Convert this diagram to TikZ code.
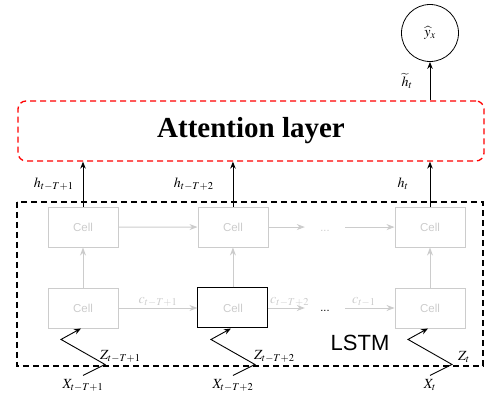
\documentclass[tikz,border=0pt]{standalone}
\usepackage{mathptmx}
\usepackage{fontspec}
\setsansfont{Liberation Sans}
\newfontfamily\attfont{Liberation Serif}
\DeclareMathSizes{13}{14}{10.5}{8}
\usetikzlibrary{arrows.meta,positioning,calc}
\definecolor{cellgray}{HTML}{CCCCCC}
\tikzset{
  cellbox/.style={draw=cellgray, line width=0.9pt, minimum width=70pt, minimum height=40pt, inner sep=0pt, text=cellgray, font=\sffamily\fontsize{11.5}{12}\selectfont},
  dotbox/.style={minimum width=40pt, inner sep=0pt, font=\sffamily\fontsize{11}{12}\selectfont},
  grayarrow/.style={draw=cellgray, line width=0.9pt, -{Stealth[length=8pt,width=6pt]}},
  blackarrow/.style={black, line width=0.9pt, -{Stealth[length=7pt,width=5.5pt]}},
  lbl/.style={font=\fontsize{13}{15}\selectfont, inner sep=1pt},
  attbox/.style={draw=red, line width=1.3pt, dash pattern=on 6pt off 4pt, rounded corners=8pt, minimum width=466pt, minimum height=60pt, font=\attfont\bfseries\fontsize{29}{30}\selectfont},
  lstmbox/.style={draw=black, line width=1.3pt, dash pattern=on 6pt off 4pt},
}
\begin{document}
\begin{tikzpicture}[x=1pt,y=-1pt]
  \useasboundingbox (0,0) rectangle (488,398);
  % LSTM cells
  \node[cellbox] (b1) at (83,308) {Cell};
  \node[cellbox, right=79pt of b1, draw=black, line width=1pt] (b2) {Cell};
  \node[cellbox] (b3) at (430,308) {Cell};
  \node[cellbox, above=40pt of b1] (t1) {Cell};
  \node[cellbox, above=40pt of b2] (t2) {Cell};
  \node[cellbox, above=40pt of b3] (t3) {Cell};
  \node[dotbox, text=cellgray] (td) at (325,231) {...};
  \node[dotbox] (bd) at (325,311) {...};
  \draw[lstmbox] (17,202) rectangle (483,366);
  \node[font=\sffamily\fontsize{22}{24}\selectfont] (lstm) at (360,343) {LSTM};
  % attention and output
  \node[attbox] (att) at (251,131) {Attention layer};
  \node[circle, draw, line width=0.8pt, minimum size=57pt, inner sep=0pt, lbl] (y) at (430,33) {$\widehat{y}_x$};
  % gray connections
  \draw[grayarrow] (t1.east) -- (t2.west);
  \draw[grayarrow] (t2.east) -- (t2.east -| td.west);
  \draw[grayarrow] (t3.west -| td.east) -- (t3.west);
  \draw[grayarrow] (b1.east) -- node[lbl, above, text=cellgray] {$c_{t-T+1}$} (b2.west);
  \draw[grayarrow] (b2.east) -- node[lbl, above, text=cellgray, xshift=3pt] {$c_{t-T+2}$} (b2.east -| bd.west);
  \draw[grayarrow] (b3.west -| bd.east) -- node[lbl, above, text=cellgray, xshift=-6pt] {$c_{t-1}$} (b3.west);
  \foreach \c in {1,2,3}
    \draw[grayarrow] (b\c.north) -- (t\c.south);
  % hidden states
  \draw[blackarrow] (t1.north) -- node[lbl, left=8pt] {$h_{t-T+1}$} (t1.north |- att.south);
  \draw[blackarrow] (t2.north) -- node[lbl, left=18pt] {$h_{t-T+2}$} (t2.north |- att.south);
  \draw[blackarrow] (t3.north) -- node[lbl, left=20pt] {$h_t$} (t3.north |- att.south);
  \draw[blackarrow] (att.north -| y) -- node[lbl, left=16pt] {$\widetilde{h}_t$} (y.south);
  % inputs
  \foreach \c/\s/\zs in {1/{t-T+1}/-6, 2/{t-T+2}/-2, 3/t/5} {
    \coordinate (x\c) at ($(b\c.south)+(0,47)$);
    \coordinate (k\c) at ($(b\c.south)+(22,36)$);
    \coordinate (l\c) at ($(b\c.south)+(-22,11)$);
    \coordinate (e\c) at ($(b\c.south)+(-2,0)$);
    \draw[blackarrow] (x\c) -- (k\c) -- (l\c) -- (e\c);
    \node[lbl, below=3pt] at (x\c) {$X_{\s}$};
    \node[lbl, anchor=south west] at ($(k\c)+(\zs,-1)$) {$Z_{\s}$};
  }
\end{tikzpicture}
\end{document}
